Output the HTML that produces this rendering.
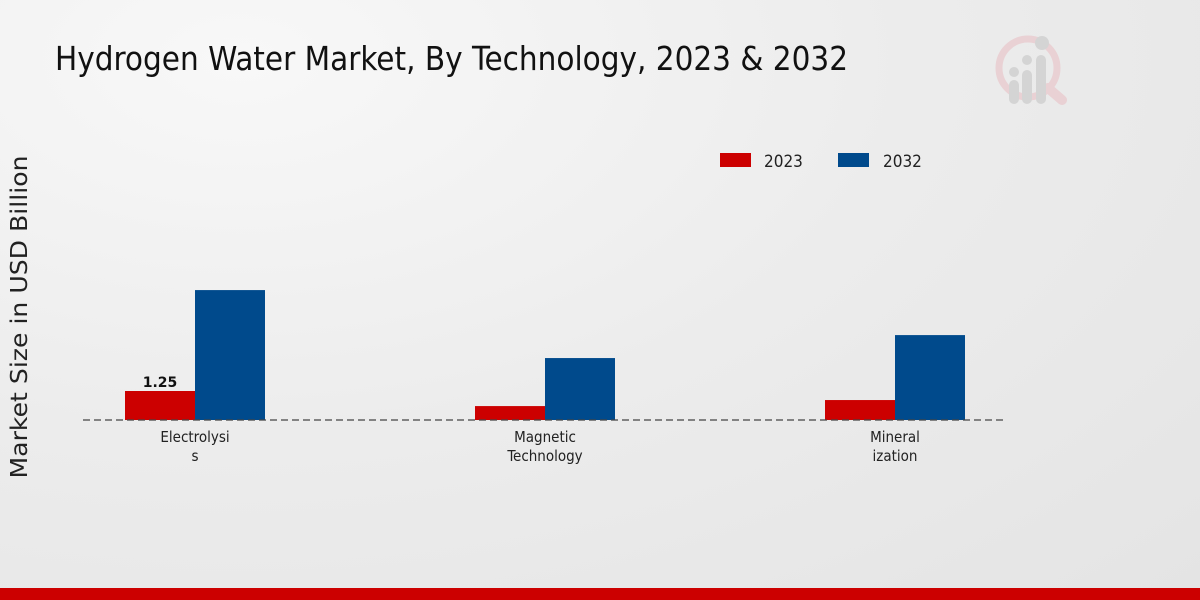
<!DOCTYPE html>
<html><head><meta charset="utf-8"><style>
body{margin:0;width:1200px;height:600px;overflow:hidden;font-family:"DejaVu Sans","Liberation Sans",sans-serif;}
#bg{position:absolute;left:0;top:0;width:1200px;height:600px;background:radial-gradient(ellipse at 20% 10%,#f8f8f8 0%,#ececec 50%,#e4e4e4 100%);}
</style></head><body>
<div id="bg"></div>
<svg width="1200" height="600" style="position:absolute;left:0;top:0" id="chart">
<text x="55" y="70" font-family="'DejaVu Sans Condensed','Liberation Sans Narrow','Liberation Sans',sans-serif" font-size="33" fill="#111" textLength="793" lengthAdjust="spacingAndGlyphs">Hydrogen Water Market, By Technology, 2023 &amp; 2032</text>
<g opacity="0.9">
<circle cx="1028" cy="68" r="29" fill="none" stroke="#e9cfd2" stroke-width="7"/>
<line x1="1048" y1="88" x2="1062" y2="100" stroke="#e9cfd2" stroke-width="10" stroke-linecap="round"/>
<rect x="1009" y="80" width="10" height="24" rx="5" fill="#d2d2d2"/><circle cx="1014" cy="72" r="5" fill="#d2d2d2"/>
<rect x="1022" y="70" width="10" height="34" rx="5" fill="#d2d2d2"/><circle cx="1027" cy="60" r="5" fill="#d2d2d2"/>
<rect x="1036" y="55" width="10" height="49" rx="5" fill="#d2d2d2"/><circle cx="1042" cy="43" r="7" fill="#d2d2d2"/>
</g>
<g>
<rect x="720" y="153" width="31" height="14" fill="#cc0000"/>
<text x="764" y="167" font-size="17" font-family="'DejaVu Sans Condensed','Liberation Sans Narrow',sans-serif" fill="#222">2023</text>
<rect x="838" y="153" width="31" height="14" fill="#004a8c"/>
<text x="883" y="167" font-size="17" font-family="'DejaVu Sans Condensed','Liberation Sans Narrow',sans-serif" fill="#222">2032</text>
</g>
<text transform="translate(27,317) rotate(-90)" text-anchor="middle" font-size="23" fill="#222" textLength="323" lengthAdjust="spacingAndGlyphs">Market Size in USD Billion</text>
<g id="bars"></g>
<line x1="83" y1="420" x2="1007" y2="420" stroke="#444" stroke-width="1.2" stroke-dasharray="7,4"/>
<g id="labels"></g>
<rect x="0" y="588" width="1200" height="12" fill="#cc0000"/>
</svg>
<script>
const categories=[["Electrolysi","s"],["Magnetic","Technology"],["Mineral","ization"]];
const values2023=[1.25,0.6,0.86];
const values2032=[5.6,2.67,3.66];
const printed2023=["1.25",null,null];
const NS="http://www.w3.org/2000/svg";
const base=420,scale=23.2,x0=195,step=350,bw=70;
function y(v){return base-v*scale;}
function cx(i){return x0+i*step;}
const gb=document.getElementById('bars'),gl=document.getElementById('labels');
categories.forEach((c,i)=>{
 [[values2023,"#cc0000",-bw,"2023"],[values2032,"#004a8c",0,"2032"]].forEach(([arr,col,off,yr])=>{
  const r=document.createElementNS(NS,'rect');
  r.setAttribute('x',cx(i)+off);r.setAttribute('y',y(arr[i]));
  r.setAttribute('width',bw);r.setAttribute('height',base-y(arr[i]));r.setAttribute('fill',col);
  
  
  gb.appendChild(r);
 });
 if(printed2023[i]){
  const t=document.createElementNS(NS,'text');
  t.setAttribute('x',cx(i)-bw/2);t.setAttribute('y',y(values2023[i])-4);
  t.setAttribute('text-anchor','middle');t.setAttribute('font-size','14');t.setAttribute('font-weight','bold');t.setAttribute('fill','#111');
  t.textContent=printed2023[i];
  
  
  gb.appendChild(t);
 }
 c.forEach((line,j)=>{
  const t=document.createElementNS(NS,'text');
  t.setAttribute('x',cx(i));t.setAttribute('y',442+j*19);
  t.setAttribute('text-anchor','middle');t.setAttribute('font-size','15');t.setAttribute('fill','#222');
  t.setAttribute('font-family',"'DejaVu Sans Condensed','Liberation Sans Narrow',sans-serif");
  t.textContent=line;
  
  
  gl.appendChild(t);
 });
});
</script>
</body></html>
